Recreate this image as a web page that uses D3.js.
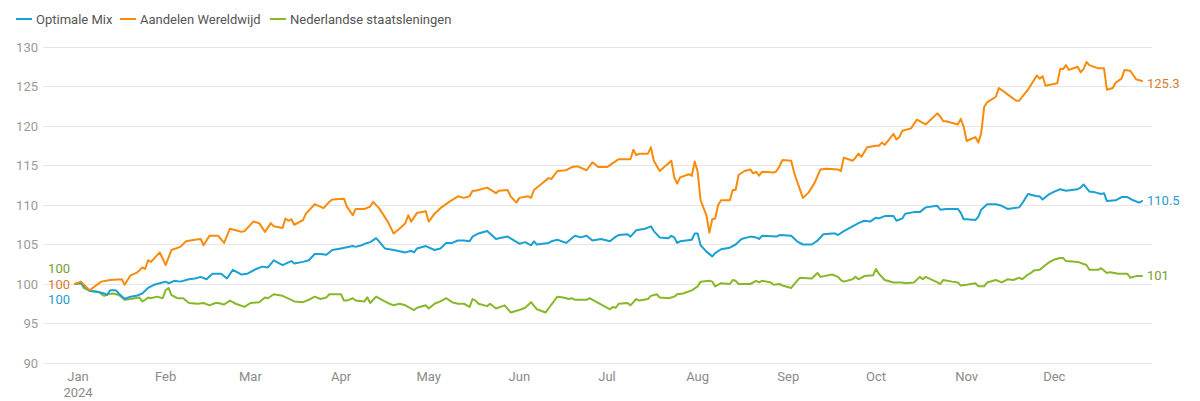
<!DOCTYPE html>
<html><head><meta charset="utf-8">
<script src="https://cdn.jsdelivr.net/npm/d3@7"></script>
<style>
html,body{margin:0;padding:0;background:#fff;}
svg{display:block;font-family:Roboto,"Noto Sans",sans-serif;}
</style></head>
<body><svg id="chart" width="1200" height="401"></svg>
<script>
// Day offsets from 1 Jan 2024 and index values (start = 100)
const mixDays = [0,2,5,8,10,11,12,14,15,17,19,21,23,25,27,29,31,32,34,36,39,41,43,45,47,50,52,54,57,59,62,64,66,68,71,74,75,78,80,82,84,86,88,91,95,96,98,100,101,103,104,106,109,113,115,116,117,120,123,125,127,129,131,133,135,136,138,141,144,145,148,152,154,156,157,158,162,163,165,168,171,173,175,177,180,183,185,186,189,190,192,195,197,198,200,203,204,205,206,207,211,212,213,214,216,218,219,221,224,226,228,231,233,234,235,240,241,245,247,249,252,254,256,259,260,261,263,266,268,270,272,274,275,277,280,281,283,284,287,289,291,295,296,298,302,303,304,305,308,309,310,312,315,317,319,323,324,326,329,330,331,333,335,337,339,343,344,345,347,349,351,352,353,356,358,360,362,364,365];
const mixValues = [100.0,100.1,99.1,99.0,98.8,98.6,99.2,99.2,98.8,98.1,98.4,98.5,98.8,99.5,99.9,100.1,100.3,100.1,100.4,100.3,100.6,100.7,100.9,100.6,101.3,101.3,100.7,101.8,101.2,101.3,101.9,102.2,102.1,103.0,102.4,102.9,102.6,102.8,103.0,103.8,103.8,103.7,104.3,104.5,104.8,104.7,104.9,105.2,105.3,105.8,105.4,104.5,104.3,104.0,104.2,104.0,104.5,104.8,104.3,104.5,105.2,105.2,105.5,105.5,105.4,106.0,106.4,106.7,105.7,105.8,106.0,105.1,105.3,104.9,105.4,105.0,105.2,105.4,105.6,105.2,106.1,105.9,106.1,105.5,105.7,105.4,106.0,106.2,106.3,106.0,106.8,107.0,107.3,106.7,105.9,105.8,106.1,105.9,105.2,105.4,105.6,106.4,106.4,104.9,104.1,103.5,103.9,104.4,104.6,105.0,105.7,106.0,105.9,105.7,106.1,106.0,106.2,106.1,105.4,105.0,105.0,105.5,106.3,106.4,106.4,106.2,106.7,107.3,107.7,108.0,107.9,108.4,108.3,108.6,108.6,108.0,108.3,108.9,109.1,109.1,109.7,109.9,109.4,109.5,109.5,109.0,108.2,108.2,108.1,108.5,109.4,110.1,110.1,109.9,109.5,109.7,110.2,111.4,111.1,111.1,110.7,111.3,111.7,112.0,111.8,112.0,112.2,112.6,111.7,111.6,111.4,111.5,110.5,110.6,111.0,111.0,110.6,110.3,110.5];

const equityDays = [0,2,5,9,12,16,17,19,21,22,23,24,25,26,29,31,33,36,38,41,43,44,46,49,51,53,55,57,58,61,63,65,67,68,71,72,73,74,75,78,79,82,85,87,88,92,93,95,96,99,101,102,104,107,109,111,113,114,115,117,120,121,123,125,128,131,133,135,136,137,141,144,145,148,149,151,152,155,156,157,159,162,163,165,168,170,172,175,177,179,182,186,190,191,192,193,196,197,198,200,204,205,206,207,210,211,212,213,214,216,217,218,219,220,221,224,225,226,227,229,231,232,233,234,235,239,240,241,242,245,246,247,249,251,253,255,257,261,262,263,266,267,268,269,271,274,275,276,277,280,281,282,283,286,288,291,295,296,297,298,302,303,304,305,308,309,310,311,312,315,316,318,319,322,323,324,326,329,330,331,332,336,337,338,339,340,343,344,345,346,347,350,352,353,355,356,358,359,361,363,365];
const equityValues = [100.0,100.3,99.2,100.3,100.5,100.6,99.9,101.1,101.4,101.7,102.1,101.9,103.0,102.8,104.0,102.4,104.3,104.7,105.4,105.6,105.7,104.9,106.1,106.1,105.2,107.0,106.8,106.6,106.7,107.9,107.7,106.6,107.7,107.3,107.1,108.3,108.0,108.2,107.5,108.1,108.9,110.1,109.6,110.4,110.7,110.8,109.8,108.7,109.5,109.5,109.8,110.4,109.6,107.9,106.4,107.0,107.7,108.7,107.9,109.0,109.2,107.9,108.9,109.6,110.4,111.1,110.9,111.1,111.8,111.8,112.2,111.5,111.8,111.9,111.1,110.3,110.9,111.1,110.9,111.9,112.5,113.4,113.3,114.3,114.4,114.8,114.9,114.4,115.4,114.8,114.8,115.8,115.8,117.0,116.3,116.5,116.5,117.3,115.6,114.3,115.6,113.5,112.7,113.5,113.9,113.7,115.5,114.2,110.6,108.7,106.5,108.2,108.3,110.0,110.6,110.6,111.9,111.9,113.8,114.3,114.5,114.0,114.2,113.7,114.2,114.1,114.3,114.9,115.7,115.6,114.1,113.0,110.9,111.6,112.8,114.5,114.6,114.5,114.3,116.0,115.6,116.0,116.5,116.1,117.3,117.5,117.5,117.9,117.6,119.0,118.3,118.6,119.4,119.7,120.8,120.2,121.6,121.2,120.6,120.6,120.2,120.9,119.9,118.1,118.6,117.9,119.1,122.4,123.0,123.7,124.8,124.3,124.0,123.2,123.2,123.7,124.6,126.4,126.0,126.3,125.1,125.4,127.2,127.2,127.7,127.1,127.5,126.8,127.2,128.1,127.7,127.3,127.3,124.6,124.8,125.5,126.0,127.1,127.0,125.9,125.7,125.3];

const bondDays = [0,2,3,5,8,10,11,13,15,17,19,22,23,24,25,26,28,30,31,32,33,35,37,39,42,44,46,48,49,51,53,55,58,60,63,65,66,68,71,74,75,78,80,82,84,86,87,91,92,93,95,96,99,100,101,103,105,107,109,111,113,116,117,120,121,123,125,127,129,131,133,135,136,137,138,141,142,144,147,149,152,154,156,158,161,162,165,167,169,170,171,175,176,178,181,183,184,185,186,189,190,192,193,196,197,199,200,203,205,206,208,211,213,214,217,218,219,221,224,225,226,227,231,233,234,235,238,239,241,242,245,247,248,252,254,255,259,261,262,263,266,267,268,270,273,274,275,277,280,283,284,287,289,290,291,295,296,297,300,302,303,305,308,309,311,312,315,317,319,321,323,324,326,327,328,330,333,335,337,338,339,343,346,347,350,351,353,354,357,360,361,363,365];
const bondValues = [100.0,100.2,99.5,99.2,99.0,98.5,98.7,98.8,98.6,98.0,98.1,98.3,97.8,98.0,98.3,98.2,98.4,98.2,99.2,99.5,98.6,98.2,98.2,97.6,97.5,97.6,97.3,97.6,97.6,97.4,97.9,97.5,97.1,97.6,97.7,98.3,98.2,98.7,98.5,98.0,97.8,97.7,98.0,98.4,98.1,98.3,98.7,98.7,97.9,97.9,98.2,97.9,97.8,98.3,97.6,98.4,98.0,97.6,97.3,97.5,97.3,96.7,97.0,97.3,96.9,97.5,97.8,98.2,97.7,97.5,97.5,97.1,98.1,97.9,97.5,97.2,97.5,96.9,97.3,96.4,96.7,97.0,97.7,96.8,96.4,96.9,98.4,98.3,98.1,98.2,98.0,98.0,98.2,97.8,97.2,96.8,97.1,97.0,97.5,97.6,97.3,98.1,97.9,98.1,98.5,98.7,98.3,98.2,98.4,98.7,98.8,99.2,99.7,100.3,100.4,100.3,99.7,100.1,100.0,100.5,100.4,100.0,100.0,100.4,100.2,100.4,100.2,99.9,100.0,99.8,99.5,100.4,100.8,100.7,101.4,100.9,101.2,100.9,100.5,100.3,100.6,100.9,100.6,101.0,101.1,101.9,101.3,100.5,100.2,100.2,100.1,100.2,100.9,100.6,100.9,100.2,100.0,100.5,100.3,100.2,99.8,99.9,100.1,99.7,99.7,100.2,100.5,100.2,100.6,100.5,100.8,100.6,101.2,101.4,101.7,101.8,102.7,103.1,103.3,103.3,102.9,102.8,102.4,101.8,101.8,102.0,101.4,101.5,101.3,101.3,100.8,101.0,101.0];

const seriesNames = ["Optimale Mix","Aandelen Wereldwijd","Nederlandse staatsleningen"];
const yTicks = [90,95,100,105,110,115,120,125,130];
const endLabels = ["110.5","125.3","101"];
const startLabels = ["100","100","100"];

const lineColors = ["#1aa0d2","#f98b0c","#87b82a"];
const textColors = ["#1f9bcf","#d97a2e","#74a02a"];

const svg = d3.select("#chart");
const base = new Date(2024,0,1);
const toDate = d => d3.timeDay.offset(base, d);

const x = d3.scaleTime().domain([new Date(2024,0,1), new Date(2024,11,31)]).range([75,1142]);
const y = d3.scaleLinear().domain([90,130]).range([363,47]);

// gridlines
svg.append("g").selectAll("line").data(yTicks).join("line")
  .attr("x1",43).attr("x2",1152)
  .attr("y1",d=>y(d)).attr("y2",d=>y(d))
  .attr("stroke","#e6e6e6").attr("stroke-width",1).attr("shape-rendering","crispEdges");

// y labels
svg.append("g").selectAll("text").data(yTicks).join("text")
  .attr("x",38).attr("y",d=>y(d)).attr("dy","0.35em")
  .attr("text-anchor","end").attr("font-size",13).attr("fill","#9a9a9a")
  .text(d=>d);

// x axis labels
const months = d3.timeMonth.range(new Date(2024,0,1), new Date(2024,11,31));
const xg = svg.append("g");
months.forEach((m,i)=>{
  const t = xg.append("text").attr("x", x(m) + (i===0?3:0) ).attr("y",381)
    .attr("text-anchor","middle").attr("font-size",13).attr("fill","#8a8a8a")
    .text(d3.timeFormat("%b")(m));
  if(i===0){
    xg.append("text").attr("x", x(m)+3).attr("y",397)
      .attr("text-anchor","middle").attr("font-size",13).attr("fill","#8a8a8a")
      .text(d3.timeFormat("%Y")(m));
  }
});

const series = [
  {days: mixDays, values: mixValues},
  {days: equityDays, values: equityValues},
  {days: bondDays, values: bondValues}
];
const line = d3.line().x(d=>x(d[0])).y(d=>y(d[1])).curve(d3.curveLinear);

// draw in order: bonds, mix, equity? keep legend order; draw green first
[2,0,1].forEach(i=>{
  const s = series[i];
  const pts = s.days.map((d,j)=>[toDate(d), s.values[j]]);
  svg.append("path").datum(pts)
    .attr("d", line).attr("fill","none")
    .attr("stroke", lineColors[i]).attr("stroke-width",2)
    .attr("stroke-linejoin","round").attr("stroke-linecap","round");
});

// end labels
series.forEach((s,i)=>{
  const last = s.values[s.values.length-1];
  const ld = s.days[s.days.length-1];
  svg.append("text").attr("x", x(toDate(ld))+5).attr("y", y(last)-1).attr("dy","0.35em")
    .attr("font-size",13).attr("fill",textColors[i]).text(endLabels[i]);
});

// start labels
const startOffsets = [15,0,-16];
series.forEach((s,i)=>{
  svg.append("text").attr("x", 70).attr("y", y(s.values[0]) + startOffsets[i]).attr("dy","0.35em")
    .attr("text-anchor","end").attr("font-size",13).attr("fill",textColors[i]).text(startLabels[i]);
});

// legend
const legendX = [16,120,270];
const lg = svg.append("g");
seriesNames.forEach((n,i)=>{
  lg.append("line").attr("x1",legendX[i]).attr("x2",legendX[i]+16).attr("y1",19).attr("y2",19)
    .attr("stroke",lineColors[i]).attr("stroke-width",2);
  lg.append("text").attr("x",legendX[i]+20).attr("y",19).attr("dy","0.35em")
    .attr("font-size",13).attr("fill","#555").text(n);
});
</script>
</body></html>
